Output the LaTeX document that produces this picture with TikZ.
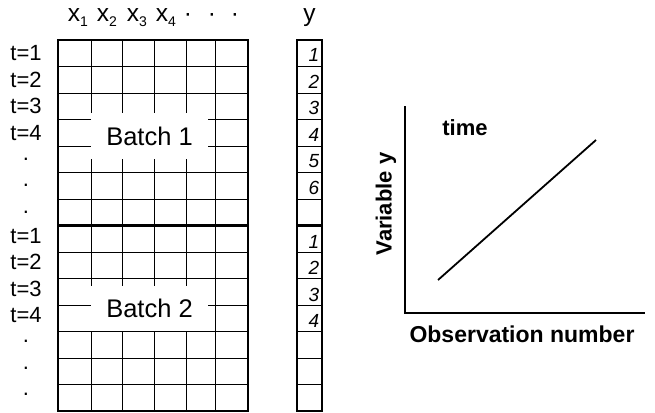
\documentclass[tikz,border=0pt]{standalone}
\usepackage{fontspec}
\setmainfont{Liberation Sans}
\usetikzlibrary{positioning}
\newcommand{\xsub}[1]{x\raisebox{-5pt}{\fontsize{14}{14}\selectfont #1}}

\begin{document}
\begin{tikzpicture}[
    x=1pt, y=-1pt,
    thinline/.style={line width=0.9pt},
    frame/.style={line width=2.2pt},
    rowlab/.style={font=\fontsize{22}{22}\selectfont, anchor=center, inner sep=0pt},
    collab/.style={font=\fontsize{24.5}{24.5}\selectfont, anchor=base, inner sep=0pt},
    ynum/.style={font=\itshape\fontsize{19}{19}\selectfont, anchor=east, inner sep=0pt},
    batch/.style={fill=white, font=\fontsize{25.5}{25.5}\selectfont, minimum width=117pt, minimum height=46pt, inner sep=0pt},
    axislab/.style={font=\bfseries\fontsize{22}{22}\selectfont, inner sep=0pt},
    axis/.style={line width=2pt},
    trend/.style={line width=1.8pt}
  ]

  \useasboundingbox (0,0) rectangle (655,412);

  % data matrix
  \foreach \r in {1,...,13} {
    \draw[thinline] (58,{40+\r*26.5}) -- (248,{40+\r*26.5});
    \draw[thinline] (297,{40+\r*26.5}) -- (322,{40+\r*26.5});
  }
  \foreach \c in {91,122,154,186,215} {
    \draw[thinline] (\c,40) -- (\c,411);
  }
  \draw[frame] (58,40) rectangle (248,411);
  \draw[frame] (58,225.5) -- (248,225.5);
  \draw[frame] (297,40) rectangle (322,411);
  \draw[frame] (297,225.5) -- (322,225.5);

  \node[batch] (batch1) at (149.5,136) {Batch 1};
  \node[batch, minimum height=45pt] (batch2) at (149.5,308) {Batch 2};

  % labels
  \foreach \k/\px in {1/78, 2/107, 3/137, 4/166} {
    \node[collab] (hx\k) at (\px,22) {\xsub{\k}};
  }
  \foreach \px [count=\k] in {188, 212, 235} {
    \node[collab] (hdot\k) at (\px,22) {·};
  }
  \node[collab] (hy) at (309.5,22) {y};

  \foreach \lab [count=\i] in {t=1, t=2, t=3, t=4, ., ., .} {
    \node[rowlab] (ta\i) at (26,{40+(\i-0.5)*26.5}) {\lab};
    \node[rowlab] (tb\i) at (26,{222.5+(\i-0.5)*26.5}) {\lab};
  }

  \foreach \n in {1,...,6} {
    \node[ynum] (ya\n) at (319.5,{42+(\n-0.5)*26.5}) {\n};
  }
  \foreach \n in {1,...,4} {
    \node[ynum] (yb\n) at (319.5,{228.5+(\n-0.5)*26.5}) {\n};
  }

  % plot
  \coordinate (ytop) at (405,106);
  \coordinate (origin) at (405,313);
  \coordinate (xend) at (645,313);
  \coordinate (lstart) at (438,280);
  \coordinate (lend) at (596,140);
  \draw[axis] (ytop) -- (origin) -- (xend);
  \draw[trend] (lstart) -- (lend);

  \node[axislab] (timelab) at (465,128) {time};
  \node[axislab, rotate=90] (ylab) at (386,204) {Variable y};
  \node[axislab, font=\bfseries\fontsize{23}{23}\selectfont] (xlab) at (522,334) {Observation number};

\end{tikzpicture}
\end{document}
